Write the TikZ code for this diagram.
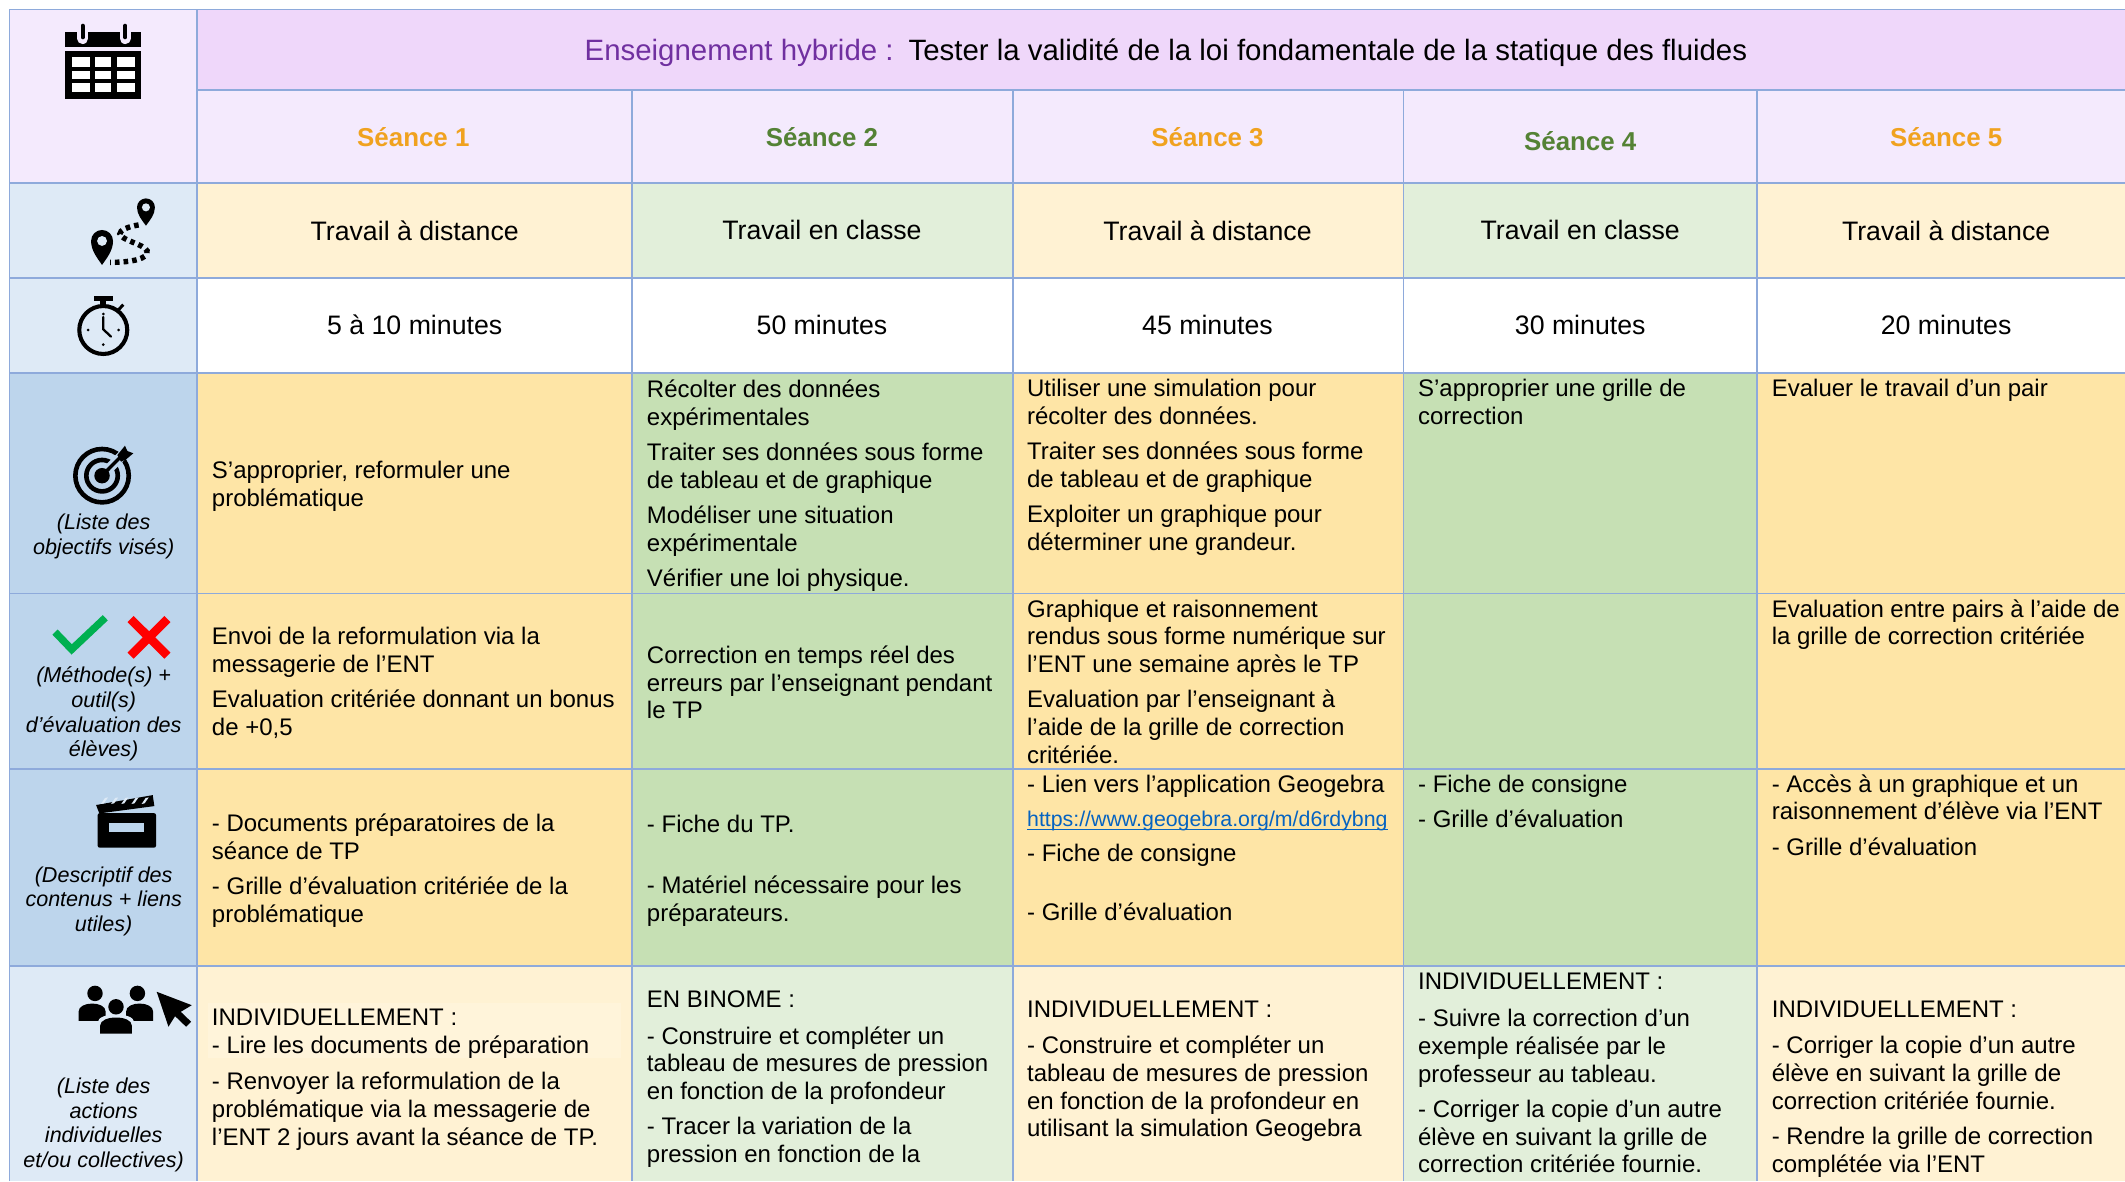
\documentclass[tikz,border=0pt]{standalone}
\usepackage{fontspec}
\setmainfont{Liberation Sans}
\definecolor{bordc}{HTML}{8EAADB}
\definecolor{headl}{HTML}{F4EAFD}
\definecolor{titleb}{HTML}{EFD7FA}
\definecolor{lightblue}{HTML}{DEEAF6}
\definecolor{midblue}{HTML}{BDD5EC}
\definecolor{paley}{HTML}{FFF2D3}
\definecolor{paleg}{HTML}{E2EFDA}
\definecolor{midy}{HTML}{FEE5A6}
\definecolor{midg}{HTML}{C6E0B4}
\definecolor{orangeh}{HTML}{F0A21F}
\definecolor{greenh}{HTML}{548235}
\definecolor{purpt}{HTML}{7030A0}
\definecolor{linkc}{HTML}{0563C1}
\definecolor{checkg}{HTML}{00B050}
\tikzset{
 cellbody/.style={anchor=north west,inner sep=0pt,align=left,font=\fontsize{8.85}{10.25}\selectfont},
 sidenote/.style={inner sep=0pt,align=center,font=\fontsize{7.95}{9.1}\selectfont\itshape},
 rowhead/.style={inner sep=0pt,font=\fontsize{9.85}{11}\selectfont},
 sessionhead/.style={inner sep=0pt,font=\fontsize{9.55}{11}\selectfont\bfseries},
 gridline/.style={draw=bordc,line width=0.6pt},
 iconink/.style={fill=black,draw=none},
}
\newcommand{\ft}{\rule{0pt}{7.5pt}}
\newcommand{\cellfill}[5]{\fill[#5] (#1,#3) rectangle (#2,#4);}
% x centre, y centre, radius, tip y
\newcommand{\pinicon}[4]{%
 \fill[iconink] ({#1-#3},#2) arc[start angle=180,end angle=360,radius=#3]
   .. controls ({#1+#3},{#2+0.4*(#4-#2)}) and ({#1+0.45*#3},{#2+0.7*(#4-#2)}) .. (#1,#4)
   .. controls ({#1-0.45*#3},{#2+0.7*(#4-#2)}) and ({#1-#3},{#2+0.4*(#4-#2)}) .. cycle;
 \fill[lightblue] (#1,#2) circle[radius={0.45*#3}];}
% x centre, top, bottom, half width, fill colour
\newcommand{\bodyicon}[5]{%
 \fill[#5] ({#1-#4},#3) -- ({#1-#4},{#2+6}) .. controls ({#1-#4},{#2+2}) and ({#1-0.5*#4},#2) .. (#1,#2)
  .. controls ({#1+0.5*#4},#2) and ({#1+#4},{#2+2}) .. ({#1+#4},{#2+6}) -- ({#1+#4},#3) -- cycle;}
\begin{document}
\begin{tikzpicture}[x=0.5pt,y=-0.5pt]
\useasboundingbox (0,0) rectangle (1568,871.5);
% fills
\cellfill{7}{145.5}{7}{135}{headl}
\cellfill{145.5}{1568}{7}{66.5}{titleb}
\cellfill{145.5}{1568}{66.5}{135}{headl}
\cellfill{7}{145.5}{135}{275}{lightblue}
\cellfill{7}{145.5}{275}{713}{midblue}
\cellfill{7}{145.5}{713}{871.5}{lightblue}
\foreach \xa/\xb/\pc/\mc in {145.5/466.5/paley/midy,466.5/747.5/paleg/midg,747.5/1035.5/paley/midy,1035.5/1296.5/paleg/midg,1296.5/1568/paley/midy}{
 \fill[\pc] (\xa,135) rectangle (\xb,205);
 \fill[white] (\xa,205) rectangle (\xb,275);
 \fill[\mc] (\xa,275) rectangle (\xb,713);
 \fill[\pc] (\xa,713) rectangle (\xb,871.5);
}
\fill[paley!85!white] (153.5,740) rectangle (458,781);
% grid
\draw[gridline] (7,871.5) -- (7,7) -- (1568,7);
\draw[gridline] (145.5,7) -- (145.5,871.5);
\draw[gridline] (145.5,66.5) -- (1568,66.5);
\foreach \yy in {135,205,275,438,567.5,713}{\draw[gridline] (7,\yy) -- (1568,\yy);}
\foreach \xx in {466.5,747.5,1035.5,1296.5}{\draw[gridline] (\xx,66.5) -- (\xx,871.5);}
% title
\node[inner sep=0pt,anchor=base west,font=\fontsize{10.85}{12}\selectfont] (title) at (431,44.5) {\textcolor{purpt}{Enseignement hybride :}\hspace{5.5pt}Tester la validité de la loi fondamentale de la statique des fluides};
% session heads
\node[sessionhead,text=orangeh] (s1) at (305,101) {Séance 1};
\node[sessionhead,text=greenh] (s2) at (606.5,101) {Séance 2};
\node[sessionhead,text=orangeh] (s3) at (891,101) {Séance 3};
\node[sessionhead,text=greenh] (s4) at (1166,104) {Séance 4};
\node[sessionhead,text=orangeh] (s5) at (1436,101) {Séance 5};
% mode
\node[rowhead] (m1) at (306,170) {Travail à distance};
\node[rowhead] (m2) at (606.5,170) {Travail en classe};
\node[rowhead] (m3) at (891,170) {Travail à distance};
\node[rowhead] (m4) at (1166,170) {Travail en classe};
\node[rowhead] (m5) at (1436,170) {Travail à distance};
% duration
\node[rowhead] (d1) at (306,240) {5 à 10 minutes};
\node[rowhead] (d2) at (606.5,240) {50 minutes};
\node[rowhead] (d3) at (891,240) {45 minutes};
\node[rowhead] (d4) at (1166,240) {30 minutes};
\node[rowhead] (d5) at (1436,240) {20 minutes};
% objectives
\node[cellbody] (o1) at (156,337.5) {\ft S’approprier, reformuler une\\problématique};
\node[cellbody] (o2) at (477,278) {\ft Récolter des données\\expérimentales\\[2.75pt]Traiter ses données sous forme\\de tableau et de graphique\\[2.75pt]Modéliser une situation\\expérimentale\\[2.75pt]Vérifier une loi physique.};
\node[cellbody] (o3) at (757.5,277) {\ft Utiliser une simulation pour\\récolter des données.\\[2.75pt]Traiter ses données sous forme\\de tableau et de graphique\\[2.75pt]Exploiter un graphique pour\\déterminer une grandeur.};
\node[cellbody] (o4) at (1046,277) {\ft S’approprier une grille de\\correction};
\node[cellbody] (o5) at (1307,277) {\ft Evaluer le travail d’un pair};
% evaluation
\node[cellbody] (e1) at (156,460) {\ft Envoi de la reformulation via la\\messagerie de l’ENT\\[2.75pt]Evaluation critériée donnant un bonus\\de +0,5};
\node[cellbody] (e2) at (477,474) {\ft Correction en temps réel des\\erreurs par l’enseignant pendant\\le TP};
\node[cellbody] (e3) at (757.5,440) {\ft Graphique et raisonnement\\rendus sous forme numérique sur\\l’ENT une semaine après le TP\\[2.75pt]Evaluation par l’enseignant à\\l’aide de la grille de correction\\critériée.};
\node[cellbody] (e5) at (1307,440) {\ft Evaluation entre pairs à l’aide de\\la grille de correction critériée};
% content
\node[cellbody] (c1) at (156,598) {\ft - Documents préparatoires de la\\séance de TP\\[2.75pt]- Grille d’évaluation critériée de la\\problématique};
\node[cellbody] (c2) at (477,599) {\ft - Fiche du TP.\\[12.25pt]- Matériel nécessaire pour les\\préparateurs.};
\node[cellbody] (c3) at (757.5,569) {\ft - Lien vers l’application Geogebra\\[2.5pt]\textcolor{linkc}{\rlap{\rule[-1.2pt]{133pt}{0.4pt}}\fontsize{7.87}{10.25}\selectfont https://www.geogebra.org/m/d6rdybng}\\[2.5pt]- Fiche de consigne\\[11.75pt]- Grille d’évaluation};
\node[cellbody] (c4) at (1046,569) {\ft - Fiche de consigne\\[2.75pt]- Grille d’évaluation};
\node[cellbody] (c5) at (1307,569) {\ft - Accès à un graphique et un\\raisonnement d’élève via l’ENT\\[3pt]- Grille d’évaluation};
% actions
\node[cellbody] (a1) at (156,741) {\ft INDIVIDUELLEMENT :\\[0.25pt]- Lire les documents de préparation\\[3pt]- Renvoyer la reformulation de la\\problématique via la messagerie de\\l’ENT 2 jours avant la séance de TP.};
\node[cellbody] (a2) at (477,728) {\ft EN BINOME :\\[3.25pt]- Construire et compléter un\\tableau de mesures de pression\\en fonction de la profondeur\\[2.75pt]- Tracer la variation de la\\pression en fonction de la};
\node[cellbody] (a3) at (757.5,735.5) {\ft INDIVIDUELLEMENT :\\[3pt]- Construire et compléter un\\tableau de mesures de pression\\en fonction de la profondeur en\\utilisant la simulation Geogebra};
\node[cellbody] (a4) at (1046,715) {\ft INDIVIDUELLEMENT :\\[3.25pt]- Suivre la correction d’un\\exemple réalisée par le\\professeur au tableau.\\[2.75pt]- Corriger la copie d’un autre\\élève en suivant la grille de\\correction critériée fournie.};
\node[cellbody] (a5) at (1307,735.5) {\ft INDIVIDUELLEMENT :\\[3pt]- Corriger la copie d’un autre\\élève en suivant la grille de\\correction critériée fournie.\\[2.75pt]- Rendre la grille de correction\\complétée via l’ENT};
% side notes
\node[sidenote] (n1) at (76.5,396) {(Liste des\\objectifs visés)};
\node[sidenote] (n2) at (76.5,527) {(Méthode(s) +\\outil(s)\\d’évaluation des\\élèves)};
\node[sidenote] (n3) at (76.5,665) {(Descriptif des\\contenus + liens\\utiles)};
\node[sidenote] (n4) at (76.5,830) {(Liste des\\actions\\individuelles\\et/ou collectives)};
% calendar icon
\fill[iconink] (48,23.5) rectangle (104,34.5);
\fill[iconink] (48,37.5) rectangle (104,73.3);
\foreach \cx in {61,92.4}{
 \draw[headl,line width=4pt,line cap=round] (\cx,24) -- (\cx,28.5);
 \draw[black,line width=1.5pt,line cap=round] (\cx,19) -- (\cx,27.5);
}
\foreach \xa/\xb in {53.3/66.2,69.8/82.2,86.4/99.3}{
 \foreach \ya/\yb in {42.3/49.2,52.2/58.5,61.5/68.1}{\fill[white] (\xa,\ya) rectangle (\xb,\yb);}
}
% route icon
\pinicon{107.7}{153}{6.6}{166.5}
\pinicon{75.3}{177.8}{8.1}{195.5}
\draw[black,line width=2pt,dash pattern=on 1.7pt off 1.5pt] (102.3,166) .. controls (95,167) and (88,170) .. (88.5,172.5) .. controls (89.5,177.5) and (106,180) .. (108.5,185) .. controls (110,191) and (97,193.6) .. (81.2,193.6);
% stopwatch icon
\draw[black,line width=1.5pt] (76.2,243.5) circle[radius=17.7];
\fill[iconink] (69.4,218.4) rectangle (83.4,221.9);
\fill[iconink] (74,221.9) rectangle (78.5,226);
\draw[black,line width=1.1pt] (87.5,228.5) -- (91,224.8);
\draw[black,line width=0.85pt,line cap=round] (76.2,234) -- (76.2,243) -- (81.9,248.4);
\foreach \tkx/\tky in {76.2/231.7,76.2/254.3,65/243.5,87.6/243.5}{\fill[black] (\tkx,\tky) circle[radius=1.1];}
% target icon
\draw[black,line width=1.7pt] (75.3,351) circle[radius=19.7];
\draw[black,line width=1.7pt] (75.3,351) circle[radius=11.6];
\fill[iconink] (75.3,351) circle[radius=5.7];
\draw[midblue,line width=3.6pt] (81,345.2) -- (95,331);
\draw[black,line width=1.25pt] (75.3,351) -- (91,335);
\fill[iconink] (86.6,335.8) -- (92.2,328.9) -- (94,332.8) -- (98.4,334.5) -- (93,339) -- (89.3,340.7) -- cycle;
% check and cross icons
\draw[checkg,line width=2.7pt,miter limit=10] (40.6,466.4) -- (52.9,479.2) -- (77.7,455.8);
\draw[red,line width=3.2pt] (96.4,456.8) -- (123.5,483.8) (123.5,456.8) -- (96.4,483.8);
% clapper icon
\fill[iconink] (70.9,594) -- (112.7,586.7) -- (113.9,594.8) -- (73.3,600.2) -- cycle;
\foreach \sx in {74.5,82,89.5,97,104.5}{\fill[lightblue] (\sx,593.2) -- ({\sx+2.2},592.8) -- ({\sx+5.2},588.4) -- ({\sx+3},588.8) -- cycle;}
\fill[iconink,rounded corners=0.8pt] (72,600) rectangle (115.2,625.5);
\fill[midblue] (80.7,607.6) rectangle (106.3,613.7);
% people and cursor icon
\foreach \hx in {70.1,101.4}{\fill[iconink] (\hx,733) circle[radius=5.7];}
\bodyicon{68}{740.5}{753.2}{10}{iconink}
\bodyicon{103}{740.5}{753.2}{10}{iconink}
\fill[lightblue] (85.6,742.9) circle[radius=7.4];
\bodyicon{85.6}{748.5}{764}{13.5}{lightblue}
\fill[iconink] (85.6,742.9) circle[radius=5.7];
\bodyicon{85.6}{750.8}{762.6}{11.7}{iconink}
\fill[iconink] (115.6,731.8) -- (141.5,741.7) -- (133.4,746.6) -- (141,753.9) -- (137.3,757.6) -- (129.2,749.8) -- (124.3,757.6) -- cycle;
\end{tikzpicture}
\end{document}
